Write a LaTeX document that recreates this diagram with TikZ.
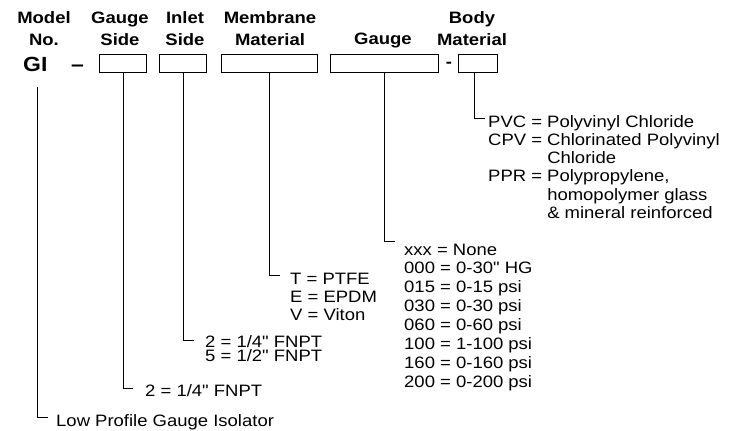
\documentclass[tikz,border=0pt]{standalone}
\usepackage{fontspec}
\newfontfamily\lab[FakeStretch=1.12]{Liberation Sans}
\newcommand\codelist[2]{\fontsize{16.5}{#1}\selectfont\begin{tabular}[t]{@{}l@{}}#2\end{tabular}}
\tikzset{
  codebox/.style={draw, line width=1.1pt, minimum width=#1, minimum height=18pt, inner sep=0, anchor=north west},
  hdr/.style={font=\lab\fontsize{16.5}{21.5}\selectfont\bfseries, anchor=base, inner sep=0},
  lst/.style={font=\lab, anchor=base west, inner sep=0},
  conn/.style={line width=0.9pt}
}
\begin{document}
\begin{tikzpicture}[x=1pt,y=-1pt]
\useasboundingbox (0,0) rectangle (732,431);
% headers
\node[hdr] (hmodel) at (44,23.5) {\begin{tabular}[t]{@{}c@{}}Model\\No.\end{tabular}};
\node[hdr] (hgside) at (120,23.5) {\begin{tabular}[t]{@{}c@{}}Gauge\\Side\end{tabular}};
\node[hdr] (hinlet) at (185,23.5) {\begin{tabular}[t]{@{}c@{}}Inlet\\Side\end{tabular}};
\node[hdr] (hmemb) at (270,23.5) {\begin{tabular}[t]{@{}c@{}}Membrane\\Material\end{tabular}};
\node[hdr] (hgauge) at (383,45) {Gauge};
\node[hdr] (hbody) at (472,23.5) {\begin{tabular}[t]{@{}c@{}}Body\\Material\end{tabular}};
% code row
\node[font=\lab\fontsize{20.5}{24}\selectfont\bfseries, anchor=base west, inner sep=0] (gi) at (23,71.5) {GI};
\node[font=\lab\fontsize{20.5}{24}\selectfont\bfseries, anchor=base, inner sep=0] (dash1) at (77.5,71) {–};
\node[codebox=47pt] (b1) at (99,54) {};
\node[codebox=47pt] (b2) at (159,54) {};
\node[codebox=96pt] (b3) at (221,54) {};
\node[codebox=108pt] (b4) at (330,54) {};
\node[font=\lab\fontsize{16.5}{20}\selectfont\bfseries, anchor=base, inner sep=0] (dash2) at (449,67.5) {-};
\node[codebox=39pt] (b5) at (458,54) {};
% corner ends
\coordinate (k0) at (48,417);
\coordinate (k1) at (133,388);
\coordinate (k2) at (194,340.5);
\coordinate (k3) at (280,275);
\coordinate (k4) at (395,241);
\coordinate (k5) at (485,118);
% lists
\node[lst] (l0) at (56,426) {\codelist{19}{Low Profile Gauge Isolator}};
\node[lst] (l1) at (145,396) {\codelist{19}{2 = 1/4" FNPT}};
\node[lst] (l2) at (205,347.5) {\codelist{18}{2 = 1/4" FNPT\\[-4pt]5 = 1/2" FNPT}};
\node[lst] (l3) at (290,284) {\codelist{18}{T = PTFE\\E = EPDM\\V = Viton}};
\node[lst] (l4) at (404,255) {\codelist{18.9}{xxx = None\\000 = 0-30" HG\\015 = 0-15 psi\\030 = 0-30 psi\\060 = 0-60 psi\\100 = 1-100 psi\\160 = 0-160 psi\\200 = 0-200 psi}};
\node[lst] (l5) at (488,127) {\codelist{18.3}{PVC = Polyvinyl Chloride\\CPV = Chlorinated Polyvinyl\\\phantom{CPV = }Chloride\\PPR = Polypropylene,\\\phantom{PPR = }homopolymer glass\\\phantom{PPR = }\& mineral reinforced}};
% connectors
\draw[conn] ([xshift=2pt,yshift=-15pt]gi.south) |- (k0);
\draw[conn] (b1.south) |- (k1);
\draw[conn] (b2.south) |- (k2);
\draw[conn] (b3.south) |- (k3);
\draw[conn] (b4.south) |- (k4);
\draw[conn] ([xshift=-3.5pt]b5.south) |- (k5);
\end{tikzpicture}
\end{document}
